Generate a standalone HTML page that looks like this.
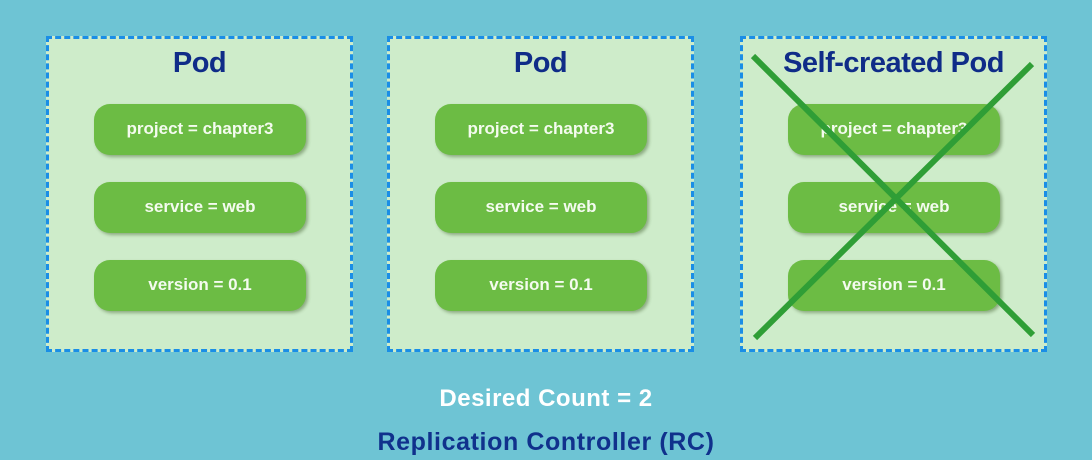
<!DOCTYPE html>
<html><head><style>
body{margin:0;width:1092px;height:460px;background:#6ec4d4;position:relative;overflow:hidden;font-family:"Liberation Sans",sans-serif}
.box{position:absolute;top:36px;width:307px;height:316px;background:#ceecca;border:3px dashed #1a8ee6;box-sizing:border-box}
.t{position:absolute;left:0;right:0;top:8px;text-align:center;font-weight:bold;font-size:29px;color:#0f2c88;letter-spacing:-0.5px}
.p{position:absolute;left:45px;width:212px;height:51px;border-radius:16px;background:#6cbc44;color:#f4fbef;font-weight:bold;font-size:17px;text-align:center;line-height:49px;box-shadow:2px 2px 3px rgba(60,90,40,.45)}
.b1{position:absolute;left:0;right:0;text-align:center;font-weight:bold}
</style></head><body>
<div class="box" style="left:46px"><div class="t">Pod</div>
<div class="p" style="top:65px">project = chapter3</div><div class="p" style="top:143px">service = web</div><div class="p" style="top:221px">version = 0.1</div></div>
<div class="box" style="left:387px"><div class="t">Pod</div>
<div class="p" style="top:65px">project = chapter3</div><div class="p" style="top:143px">service = web</div><div class="p" style="top:221px">version = 0.1</div></div>
<div class="box" style="left:740px"><div class="t">Self-created Pod</div>
<div class="p" style="top:65px">project = chapter3</div><div class="p" style="top:143px">service = web</div><div class="p" style="top:221px">version = 0.1</div></div>
<svg style="position:absolute;left:0;top:0" width="1092" height="460"><g stroke="#2f9e36" stroke-width="6" stroke-linecap="butt"><line x1="753" y1="56" x2="1033" y2="335"/><line x1="1032" y1="64" x2="755" y2="338"/></g></svg>
<div class="b1" style="top:385px;font-size:24px;color:#fff;letter-spacing:0.5px">Desired Count = 2</div>
<div class="b1" style="top:428px;font-size:25px;color:#10318c;letter-spacing:0.6px">Replication Controller (RC)</div>
</body></html>
